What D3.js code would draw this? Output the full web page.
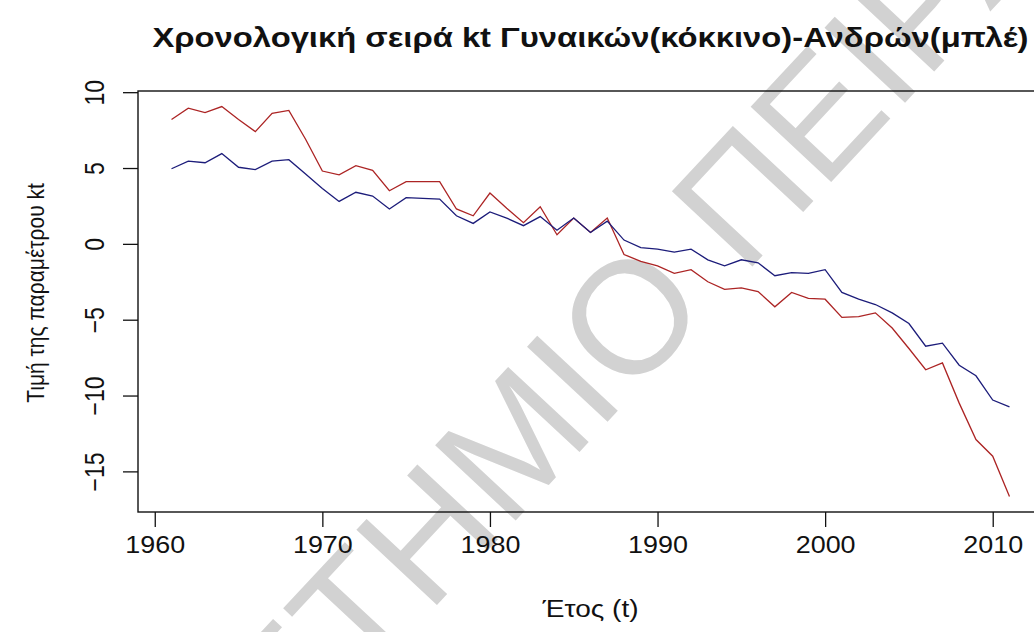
<!DOCTYPE html>
<html>
<head>
<meta charset="utf-8">
<script src="https://cdn.jsdelivr.net/npm/d3@7"></script>
<style>
  body { margin: 0; background: #fff; }
  svg { display: block; font-family: "Liberation Sans", Arial, sans-serif; }
</style>
</head>
<body>
<div id="chart"></div>
<script>
const years = d3.range(1961, 2012);

// kt γυναικών (κόκκινο)
const ktWomen = [
  8.2, 8.95, 8.65, 9.05, 8.2, 7.4, 8.6, 8.8, 6.9, 4.8,
  4.55, 5.15, 4.85, 3.5, 4.1, 4.1, 4.1, 2.3, 1.85, 3.35,
  2.35, 1.4, 2.45, 0.6, 1.7, 0.75, 1.7, -0.7, -1.15, -1.45,
  -1.95, -1.7, -2.5, -3.0, -2.9, -3.15, -4.15, -3.2, -3.6, -3.65,
  -4.85, -4.8, -4.55, -5.55, -6.9, -8.3, -7.85, -10.5, -12.9, -14.0,
  -16.65
];

// kt ανδρών (μπλε)
const ktMen = [
  4.95, 5.45, 5.35, 5.95, 5.05, 4.9, 5.45, 5.55, 4.6, 3.65,
  2.8, 3.4, 3.15, 2.3, 3.05, 3.0, 2.95, 1.85, 1.35, 2.1,
  1.7, 1.2, 1.8, 0.9, 1.7, 0.75, 1.5, 0.25, -0.25, -0.35,
  -0.55, -0.35, -1.05, -1.45, -1.05, -1.25, -2.1, -1.9, -1.95, -1.7,
  -3.2, -3.65, -4.0, -4.55, -5.25, -6.75, -6.55, -8.0, -8.7, -10.3,
  -10.75
];

const xTicks = [1960, 1970, 1980, 1990, 2000, 2010];
const yTicks = [-15, -10, -5, 0, 5, 10];

const chart = {
    width: 1034,
    height: 632,
    left: 138,
    right: 1043,
    top: 91,
    bottom: 512,
    stretch: 1.17,   // picture is a bit wider than tall
    redColor: "#ac2424",
    blueColor: "#1c1c7a",
    // R style: data range padded by 4% each side
    padded: function(ext) {
        const d = (ext[1] - ext[0]) * 0.04;
        return [ext[0] - d, ext[1] + d];
    },
    plot: function() {
        const _self = chart;

        const svg = d3.select("#chart")
            .append("svg")
            .attr("width", _self.width)
            .attr("height", _self.height);

        const x = d3.scaleLinear()
            .domain(_self.padded(d3.extent(years)))
            .range([_self.left, _self.right]);

        const y = d3.scaleLinear()
            .domain(_self.padded(d3.extent(ktWomen.concat(ktMen))))
            .range([_self.bottom, _self.top]);

        // watermark
        const wm = svg.append("g")
            .attr("transform", "translate(723,298) rotate(-47)")
            .style("fill", "#d2d2d2")
            .style("font-size", "160px");
        wm.append("text")
            .attr("text-anchor", "end")
            .attr("x", -15)
            .text("ΠΑΝΕΠΙΣΤΗΜΙΟ");
        wm.append("text")
            .attr("text-anchor", "start")
            .attr("x", 30)
            .text("ΠΕΙΡΑΙΩΣ");

        const line = d3.line()
            .x((d, i) => x(years[i]))
            .y(d => y(d));

        svg.append("path")
            .datum(ktWomen)
            .attr("d", line)
            .attr("fill", "none")
            .attr("stroke", _self.redColor)
            .attr("stroke-width", 1.3);

        svg.append("path")
            .datum(ktMen)
            .attr("d", line)
            .attr("fill", "none")
            .attr("stroke", _self.blueColor)
            .attr("stroke-width", 1.3);

        svg.append("rect")
            .attr("x", _self.left)
            .attr("y", _self.top)
            .attr("width", _self.right - _self.left)
            .attr("height", _self.bottom - _self.top)
            .attr("fill", "none")
            .attr("stroke", "#111")
            .attr("stroke-width", 1.4);

        // x axis
        const xAxis = svg.append("g")
            .attr("transform", `translate(0,${_self.bottom})`)
            .call(d3.axisBottom(x).tickValues(xTicks).tickFormat(d3.format("d"))
                .tickSize(15).tickPadding(10));
        xAxis.select(".domain").remove();
        xAxis.selectAll("line").attr("stroke", "#111").attr("stroke-width", 1.3);
        xAxis.selectAll("text")
            .attr("transform", `scale(${_self.stretch},1)`)
            .attr("fill", "#111")
            .style("font-family", "Liberation Sans, Arial, sans-serif")
            .style("font-size", "23px");

        // y axis, labels rotated like R's las=0
        const yAxis = svg.append("g")
            .attr("transform", `translate(${_self.left},0)`)
            .call(d3.axisLeft(y).tickValues(yTicks).tickSize(15));
        yAxis.select(".domain").remove();
        yAxis.selectAll("line").attr("stroke", "#111").attr("stroke-width", 1.3);
        yAxis.selectAll("text")
            .attr("x", null)
            .attr("dy", null)
            .attr("text-anchor", "middle")
            .attr("transform", `translate(-34,0) rotate(-90) scale(1,${_self.stretch})`)
            .attr("fill", "#111")
            .style("font-family", "Liberation Sans, Arial, sans-serif")
            .style("font-size", "23px");

        // titles
        const cx = (_self.left + _self.right) / 2;

        svg.append("text")
            .attr("transform", `translate(${cx},47) scale(${_self.stretch},1)`)
            .attr("text-anchor", "middle")
            .style("font-weight", "bold")
            .style("font-size", "28px")
            .attr("fill", "#111")
            .text("Χρονολογική σειρά kt Γυναικών(κόκκινο)-Ανδρών(μπλέ)");

        svg.append("text")
            .attr("transform", `translate(${cx},617) scale(${_self.stretch},1)`)
            .attr("text-anchor", "middle")
            .style("font-size", "24px")
            .attr("fill", "#111")
            .text("Έτος (t)");

        svg.append("text")
            .attr("transform", `translate(44,293) rotate(-90) scale(1,${_self.stretch})`)
            .attr("text-anchor", "middle")
            .style("font-size", "21px")
            .attr("fill", "#111")
            .text("Τιμή της παραμέτρου kt");
    }
};

chart.plot();
</script>
</body>
</html>
